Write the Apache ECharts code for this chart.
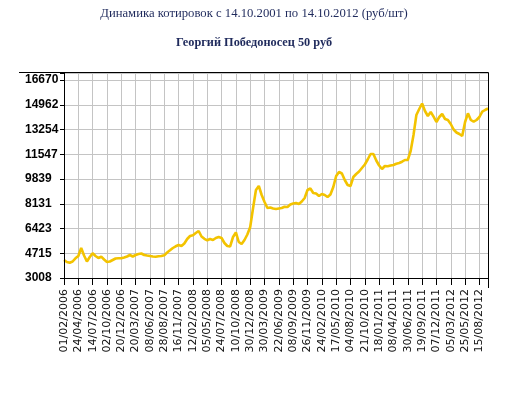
<!DOCTYPE html>
<html>
<head>
<meta charset="utf-8">
<script src="https://cdn.jsdelivr.net/npm/echarts@6/dist/echarts.min.js"></script>
<style>
html,body{margin:0;padding:0;background:#fff;}
#c{width:530px;height:395px;}
</style>
</head>
<body>
<div id="c"></div>
<script>
const titleMain = 'Динамика котировок с 14.10.2001 по 14.10.2012 (руб/шт)';
const titleSub = 'Георгий Победоносец 50 руб';

// Labelled dates on the x axis (one every 5 points)
const tickDates = [
  '01/02/2006','24/04/2006','14/07/2006','02/10/2006','20/12/2006',
  '20/03/2007','08/06/2007','28/08/2007','16/11/2007','12/02/2008',
  '05/05/2008','24/07/2008','10/10/2008','30/12/2008','30/03/2009',
  '22/06/2009','08/09/2009','26/11/2009','24/02/2010','17/05/2010',
  '04/08/2010','21/10/2010','18/01/2011','08/04/2011','30/06/2011',
  '19/09/2011','07/12/2011','05/03/2012','25/05/2012','15/08/2012'
];

// Y tick labels
const yTickLabels = [3008, 4715, 6423, 8131, 9839, 11547, 13254, 14962, 16670];

// Price values (руб), 149 points
const prices = [
  4250, 4112, 4064, 4146, 4367, 4526, 5078, 4560, 4146, 4457,
  4712, 4526, 4388, 4478, 4284, 4112, 4146, 4250, 4353, 4367,
  4367, 4422, 4491, 4595, 4491, 4595, 4664, 4698, 4595, 4560,
  4526, 4491, 4478, 4512, 4526, 4574, 4768, 4919, 5078, 5195,
  5285, 5216, 5388, 5699, 5906, 5954, 6113, 6251, 5872, 5713,
  5609, 5699, 5630, 5768, 5837, 5768, 5423, 5216, 5182, 5837,
  6150, 5492, 5354, 5630, 6010, 6527, 7838, 9080, 9356, 8735,
  8252, 7838, 7873, 7804, 7769, 7804, 7838, 7928, 7907, 8080,
  8148, 8183, 8114, 8286, 8528, 9080, 9184, 8873, 8838, 8666,
  8804, 8735, 8597, 8770, 9287, 10046, 10322, 10218, 9770, 9425,
  9356, 9977, 10184, 10357, 10598, 10840, 11185, 11564, 11564, 11116,
  10771, 10529, 10736, 10715, 10771, 10805, 10888, 10943, 11033, 11150,
  11150, 11771, 12875, 14255, 14669, 15049, 14531, 14186, 14462, 14138,
  13772, 14117, 14324, 13979, 13910, 13634, 13255, 13048, 12944, 12806,
  13772, 14372, 13910, 13793, 13910, 14117, 14483, 14600, 14704
];

const Y_BASE = yTickLabels[0];
const Y_STEP = (yTickLabels[yTickLabels.length - 1] - Y_BASE) / (yTickLabels.length - 1);
const PER = 5;

const categories = prices.map((_, i) => {
  const d = tickDates[Math.floor(i / PER)] || tickDates[tickDates.length - 1];
  return i % PER === 0 ? d : d + '#' + (i % PER);
});
const seriesData = prices.map(v => v - Y_BASE);

const chart = echarts.init(document.getElementById('c'), null, {renderer: 'canvas'});
const option = {
  animation: false,
  backgroundColor: '#ffffff',
  grid: {left: 64, right: 42, top: 73, bottom: 117, containLabel: false},
  xAxis: {
    type: 'category',
    data: categories,
    boundaryGap: false,
    offset: 2,
    axisLine: {show: true, lineStyle: {color: '#000', width: 1}},
    axisTick: {show: true, interval: PER - 1, length: 7, lineStyle: {color: '#000'}},
    axisLabel: {
      interval: PER - 1,
      rotate: 90,
      margin: 9,
      color: '#111',
      fontFamily: 'DejaVu Sans',
      fontSize: 11,
      formatter: v => v.split('#')[0]
    },
    splitLine: {show: true, interval: PER - 1, lineStyle: {color: '#c4c4c4', width: 1}}
  },
  yAxis: {
    type: 'value',
    min: 0,
    max: Y_STEP * 8 + 483,
    interval: Y_STEP,
    axisLine: {show: true, lineStyle: {color: '#000', width: 1}},
    axisTick: {show: true, length: 4, lineStyle: {color: '#000'}},
    axisLabel: {
      margin: 39,
      align: 'left',
      color: '#000',
      fontFamily: 'Liberation Sans',
      fontWeight: 'bold',
      fontSize: 12,
      formatter: v => {
        const k = Math.round(v / Y_STEP);
        if (Math.abs(v - k * Y_STEP) < 1 && k < yTickLabels.length) return String(yTickLabels[k]);
        return '';
      }
    },
    splitLine: {show: true, lineStyle: {color: '#c4c4c4', width: 1}}
  },
  series: [{
    type: 'line',
    data: seriesData,
    showSymbol: false,
    smooth: false,
    lineStyle: {color: '#f3c300', width: 2.6},
    itemStyle: {color: '#f3c300'}
  }],
  graphic: [
    {type: 'text', x: 254, y: 14, style: {text: titleMain, fill: '#1f2a5c', font: '12.7px "Liberation Serif"', align: 'center', verticalAlign: 'middle'}},
    {type: 'text', x: 254, y: 43, style: {text: titleSub, fill: '#1f2a5c', font: 'bold 12.3px "Liberation Serif"', align: 'center', verticalAlign: 'middle'}},
    {type: 'line', shape: {x1: 19, y1: 72.5, x2: 488.5, y2: 72.5}, style: {stroke: '#000', lineWidth: 1}, z: 10},
    {type: 'line', shape: {x1: 488.5, y1: 72.5, x2: 488.5, y2: 288}, style: {stroke: '#000', lineWidth: 1}, z: 10},
    {type: 'line', shape: {x1: 64.5, y1: 72.5, x2: 64.5, y2: 280.5}, style: {stroke: '#000', lineWidth: 1}, z: 10}
  ]
};
chart.setOption(option);
</script>
</body>
</html>
